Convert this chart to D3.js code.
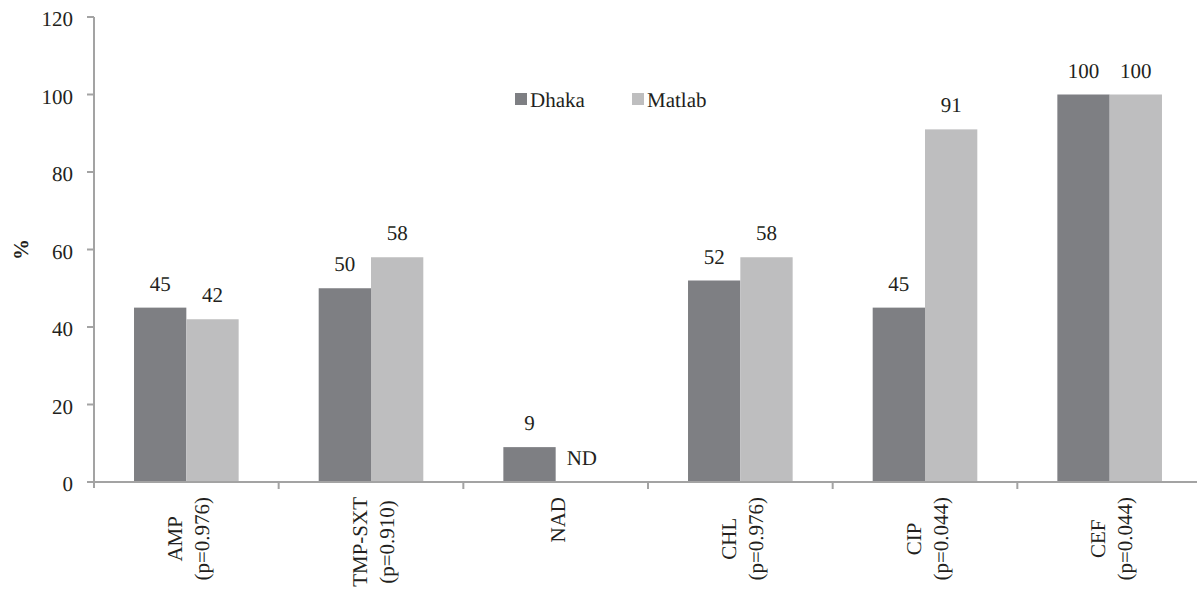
<!DOCTYPE html>
<html>
<head>
<meta charset="utf-8">
<script src="https://cdn.jsdelivr.net/npm/d3@7"></script>
<style>
  body { margin: 0; background: #fff; }
  svg { display: block; }
  svg text { font-family: 'Times New Roman', 'Liberation Serif', serif; text-rendering: geometricPrecision; }
</style>
</head>
<body>
<svg id="chart" width="1197" height="590"></svg>
<script>
const categories = [
  ['AMP', '(p=0.976)'],
  ['TMP-SXT', '(p=0.910)'],
  ['NAD'],
  ['CHL', '(p=0.976)'],
  ['CIP', '(p=0.044)'],
  ['CEF', '(p=0.044)'],
];
const seriesNames = ['Dhaka', 'Matlab'];
const dhaka = [45, 50, 9, 52, 45, 100];
const matlab = [42, 58, null, 58, 91, 100]; // null = ND
const yTicks = [0, 20, 40, 60, 80, 100, 120];

const colors = { Dhaka: '#7e7f83', Matlab: '#bebebf' };
const axisColor = '#a3a3a3';
const textColor = '#231f20';

const svg = d3.select('#chart');
const margin = { left: 94, right: -5, top: 17, bottom: 108 };
const width = 1197;
const height = 590;

const catKeys = categories.map((c) => c[0]);

const x0 = d3.scaleBand()
  .domain(catKeys)
  .range([margin.left, width - margin.right])
  .paddingInner(0)
  .paddingOuter(0);

const x1 = d3.scaleBand()
  .domain(seriesNames)
  .range([0, x0.bandwidth()])
  .paddingInner(0)
  .paddingOuter(0.765);

const y = d3.scaleLinear()
  .domain([0, 120])
  .range([height - margin.bottom, margin.top]);

const rows = catKeys.map((k, i) => ({
  key: k,
  label: categories[i],
  values: [
    { name: 'Dhaka', value: dhaka[i] },
    { name: 'Matlab', value: matlab[i] },
  ],
}));

// bars
const group = svg.append('g')
  .selectAll('g')
  .data(rows)
  .join('g')
  .attr('transform', (d) => `translate(${x0(d.key)},0)`);

group.selectAll('rect')
  .data((d) => d.values.filter((v) => v.value !== null))
  .join('rect')
  .attr('x', (v) => x1(v.name))
  .attr('y', (v) => y(v.value))
  .attr('width', x1.bandwidth())
  .attr('height', (v) => y(0) - y(v.value))
  .attr('fill', (v) => colors[v.name]);

group.selectAll('text.val')
  .data((d) => d.values)
  .join('text')
  .attr('class', 'val')
  .attr('x', (v) => x1(v.name) + x1.bandwidth() / 2)
  .attr('y', (v) => y(v.value === null ? 0 : v.value) - 17)
  .attr('text-anchor', 'middle')
  .attr('font-size', 21)
  .attr('fill', textColor)
  .text((v) => (v.value === null ? 'ND' : v.value));

// y axis
const yAxis = svg.append('g');
yAxis.append('line')
  .attr('x1', margin.left).attr('x2', margin.left)
  .attr('y1', y(120)).attr('y2', y(0) + 6)
  .attr('stroke', axisColor).attr('stroke-width', 2);
yAxis.selectAll('line.tick')
  .data(yTicks)
  .join('line')
  .attr('class', 'tick')
  .attr('x1', margin.left - 7).attr('x2', margin.left)
  .attr('y1', (d) => y(d)).attr('y2', (d) => y(d))
  .attr('stroke', axisColor).attr('stroke-width', 2);
yAxis.selectAll('text')
  .data(yTicks)
  .join('text')
  .attr('x', margin.left - 21)
  .attr('y', (d) => y(d) + 2)
  .attr('dominant-baseline', 'central')
  .attr('text-anchor', 'end')
  .attr('font-size', 21)
  .attr('fill', textColor)
  .text((d) => d);

svg.append('text')
  .attr('transform', `translate(21,${(y(0) + y(120)) / 2}) rotate(-90)`)
  .attr('text-anchor', 'middle')
  .attr('dominant-baseline', 'central')
  .attr('font-size', 21)
  .attr('font-weight', 'bold')
  .attr('fill', textColor)
  .text('%');

// x axis
const xAxis = svg.append('g');
xAxis.append('line')
  .attr('x1', margin.left).attr('x2', width + 5)
  .attr('y1', y(0)).attr('y2', y(0))
  .attr('stroke', axisColor).attr('stroke-width', 2);
xAxis.selectAll('line.tick')
  .data(catKeys.slice(1))
  .join('line')
  .attr('class', 'tick')
  .attr('x1', (d) => x0(d)).attr('x2', (d) => x0(d))
  .attr('y1', y(0)).attr('y2', y(0) + 7)
  .attr('stroke', axisColor).attr('stroke-width', 2);

const labelTop = y(0) + 15;
rows.forEach((r) => {
  const cx = x0(r.key) + x0.bandwidth() / 2 + 2;
  const n = r.label.length;
  const g = svg.append('g');
  const texts = r.label.map((line) =>
    g.append('text')
      .attr('font-size', 21)
      .attr('fill', textColor)
      .attr('text-anchor', 'middle')
      .attr('dominant-baseline', 'central')
      .text(line));
  const maxLen = d3.max(texts, (t) => t.node().getComputedTextLength());
  texts.forEach((t, i) => {
    const off = (i - (n - 1) / 2) * 27;
    t.attr('transform', `translate(${cx + off},${labelTop + maxLen / 2}) rotate(-90)`);
  });
});

// legend
const legend = svg.append('g');
const legendItems = [
  { name: 'Dhaka', x: 515 },
  { name: 'Matlab', x: 632 },
];
legend.selectAll('rect')
  .data(legendItems)
  .join('rect')
  .attr('x', (d) => d.x).attr('y', 93)
  .attr('width', 12).attr('height', 12)
  .attr('fill', (d) => colors[d.name]);
legend.selectAll('text')
  .data(legendItems)
  .join('text')
  .attr('x', (d) => d.x + 15).attr('y', 107)
  .attr('font-size', 21)
  .attr('fill', textColor)
  .text((d) => d.name);
</script>
</body>
</html>
